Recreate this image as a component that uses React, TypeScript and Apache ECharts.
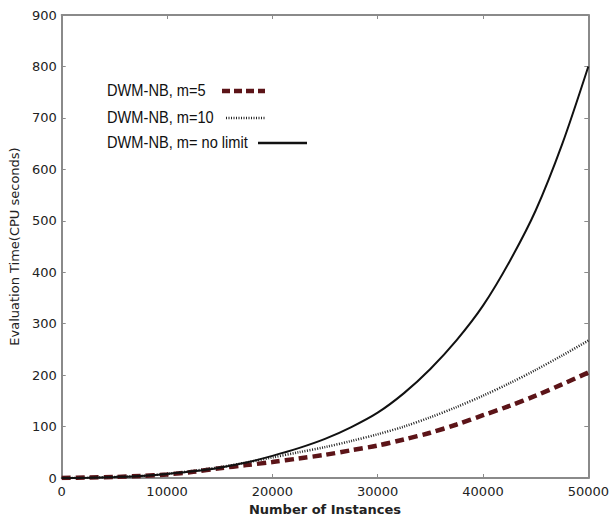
import React, { useEffect, useRef } from "react";
import * as echarts from "echarts";

const instances = [
  0, 2500, 5000, 7500, 10000, 12500, 15000, 17500, 20000, 22500, 25000,
  27500, 30000, 32500, 35000, 37500, 40000, 42500, 45000, 47500, 50000,
];
const m5 = [0, 1, 2, 4, 7, 12, 19, 25, 31, 38, 45, 54, 63, 75, 88, 104, 122, 140, 160, 182, 205];
const m10 = [0, 0.5, 2, 4, 8, 14, 21, 30, 40, 50, 60, 72, 85, 100, 118, 138, 160, 184, 210, 238, 267];
const noLimit = [0, 0.5, 2, 4, 8, 13, 20, 30, 43, 58, 76, 99, 127, 165, 212, 268, 335, 420, 520, 648, 800];
const legendNames = ["DWM-NB, m=5", "DWM-NB, m=10", "DWM-NB, m= no limit"];

const pairs = (ys: number[]) => instances.map((x, i) => [x, ys[i]]);

export default function App() {
  const ref = useRef<HTMLDivElement>(null);
  useEffect(() => {
    if (!ref.current) return;
    const chart = echarts.init(ref.current, undefined, { renderer: "svg" });
    const axisGray = "#8a8a8a";
    const font = "DejaVu Sans";
    const legendFont = "Liberation Sans";
    const legendY = [90, 117, 142];
    const sampleStyles = [
      { x1: 222, x2: 265, stroke: "#5c1418", lineWidth: 4.5, lineDash: [8, 4] },
      { x1: 226, x2: 266, stroke: "#222", lineWidth: 2.5, lineDash: [1, 1.5] },
      { x1: 258, x2: 307, stroke: "#111", lineWidth: 2.5, lineDash: null },
    ];
    const graphics: any[] = [];
    legendNames.forEach((name, i) => {
      graphics.push({
        type: "text",
        x: 107,
        y: legendY[i],
        scaleX: 0.86,
        style: {
          text: name,
          fontFamily: legendFont,
          fontSize: 17,
          fill: "#111",
          verticalAlign: "middle",
          align: "left",
        },
      });
      const s = sampleStyles[i];
      graphics.push({
        type: "line",
        shape: { x1: s.x1, y1: legendY[i] + 1, x2: s.x2, y2: legendY[i] + 1 },
        style: { stroke: s.stroke, lineWidth: s.lineWidth, lineDash: s.lineDash },
      });
    });

    const tickCommon = {
      axisLine: { show: true, onZero: false, lineStyle: { color: axisGray, width: 2 } },
      axisTick: { show: true, inside: true, length: 4, lineStyle: { color: axisGray, width: 1 } },
      splitLine: { show: false },
    };

    const lineCommon = { type: "line", smooth: 0.3, showSymbol: false };

    chart.setOption({
      animation: false,
      backgroundColor: "#fff",
      grid: { left: 58, right: 21, top: 15, bottom: 38, containLabel: false },
      xAxis: [
        {
          type: "value",
          min: 0,
          max: 50000,
          interval: 10000,
          ...tickCommon,
          axisLabel: {
            color: "#222",
            fontSize: 13,
            fontFamily: font,
            margin: 7,
            formatter: (v: number) => String(v),
          },
          name: "Number of Instances",
          nameLocation: "middle",
          nameGap: 25,
          nameTextStyle: { color: "#222", fontSize: 13, fontFamily: font, fontWeight: "bold" },
        },
        {
          type: "value",
          position: "top",
          min: 0,
          max: 50000,
          interval: 10000,
          ...tickCommon,
          axisLabel: { show: false },
        },
      ],
      yAxis: [
        {
          type: "value",
          min: 0,
          max: 900,
          interval: 100,
          ...tickCommon,
          axisLabel: { color: "#222", fontSize: 13, fontFamily: font, margin: 5 },
          name: "Evaluation Time(CPU seconds)",
          nameLocation: "middle",
          nameGap: 38,
          nameTextStyle: { color: "#222", fontSize: 13, fontFamily: font },
        },
        {
          type: "value",
          position: "right",
          min: 0,
          max: 900,
          interval: 100,
          ...tickCommon,
          axisLabel: { show: false },
        },
      ],
      series: [
        {
          ...lineCommon,
          name: legendNames[0],
          data: pairs(m5),
          lineStyle: { color: "#5c1418", width: 4.5, type: [9, 5] },
          z: 2,
        },
        {
          ...lineCommon,
          name: legendNames[1],
          data: pairs(m10),
          lineStyle: { color: "#222", width: 2.5, type: [1, 1.5] },
          z: 3,
        },
        {
          ...lineCommon,
          name: legendNames[2],
          data: pairs(noLimit),
          lineStyle: { color: "#111", width: 2 },
          z: 4,
        },
      ],
      graphic: graphics,
    });
    return () => chart.dispose();
  }, []);
  return (
    <div
      ref={ref}
      style={{ position: "absolute", left: 0, top: 0, width: 612, height: 521, background: "#fff" }}
    />
  );
}
